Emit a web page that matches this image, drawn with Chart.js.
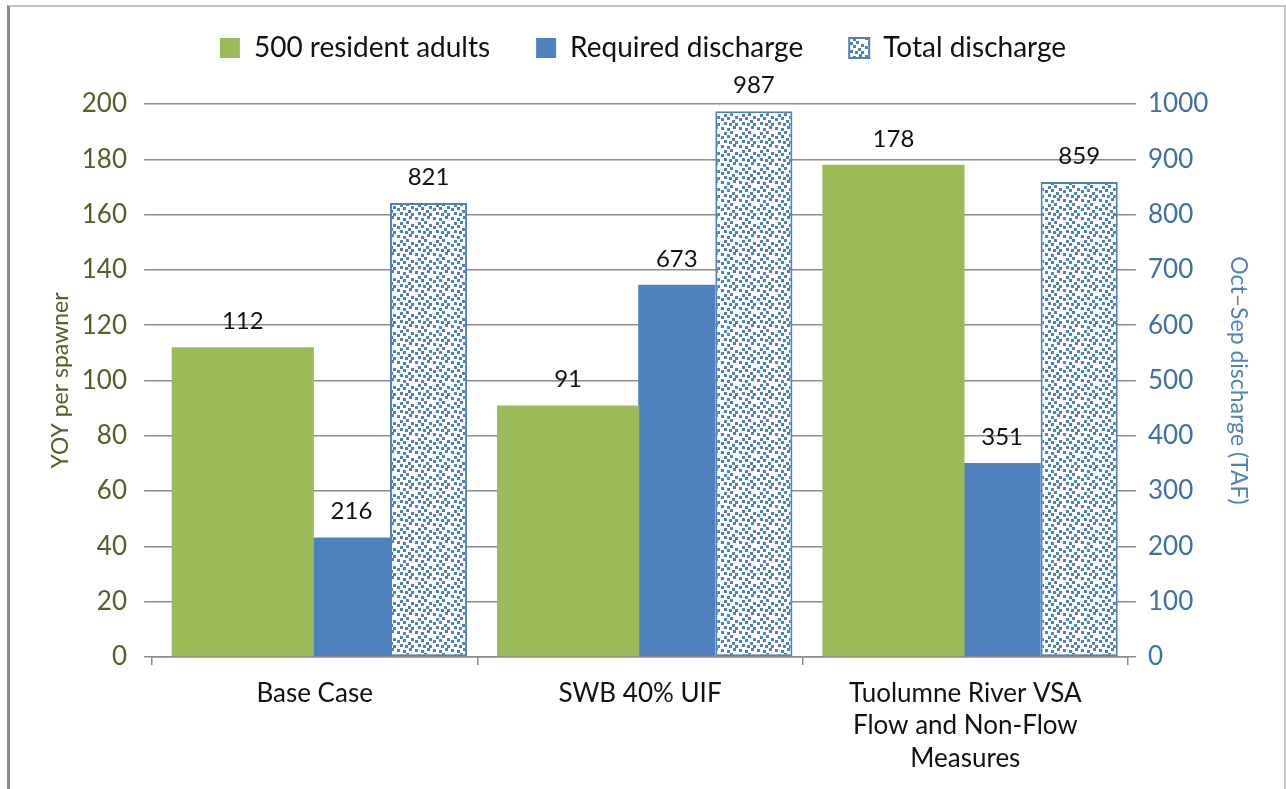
<!DOCTYPE html>
<html>
<head>
<meta charset="utf-8">
<script src="https://cdn.jsdelivr.net/npm/chart.js@4"></script>
<style>
  body { margin: 0; background: #fff; }
  #wrap { position: relative; width: 1286px; height: 789px; }
  #frame { position: absolute; left: 7px; top: 5px; width: 1274px; height: 800px;
           border-left: 3px solid #8a8a8a; border-top: 2px solid #c4c4c4; border-right: 2px solid #c8c8c8; }
  #grafica { position: absolute; left: 0; top: 0; }
</style>
</head>
<body>
<div id="wrap">
  <div id="frame"></div>
  <canvas id="grafica" width="1286" height="789"></canvas>
</div>
<script>
var categorias = ['Base Case', 'SWB 40% UIF', ['Tuolumne River VSA', 'Flow and Non-Flow', 'Measures']];
var adultos = [112, 91, 178];
var descargaRequerida = [216, 673, 351];
var descargaTotal = [821, 987, 859];
var ticksIzq = [0, 20, 40, 60, 80, 100, 120, 140, 160, 180, 200];
var ticksDer = [0, 100, 200, 300, 400, 500, 600, 700, 800, 900, 1000];

var verde = '#9BBB59';
var azul = '#4F81BD';
var gris = '#8c8c8c';
var fuente = 'Lato, "Open Sans", sans-serif';

// each series sits on its own hidden linear axis, shifted inside the category
function ejeOculto(corrimiento) {
    return {
        type: 'linear', display: false, offset: false, position: 'bottom',
        min: -0.5 - corrimiento, max: 2.5 - corrimiento,
        afterBuildTicks: function(s) { s.ticks = categorias.map(function(c, i){ return { value: i }; }); }
    };
}

function puntosSerie(valores) {
    return valores.map(function(v, i){ return { x: i, y: v }; });
}

// white tile with scattered blue dots for the total discharge bars
function patronPuntos() {
    var c = document.createElement('canvas');
    c.width = 18; c.height = 18;
    var g = c.getContext('2d');
    g.fillStyle = '#ffffff';
    g.fillRect(0, 0, 18, 18);
    g.fillStyle = azul;
    var puntos = [[1,1],[7,2],[13,0],[4,6],[10,5],[15,8],[1,10],[7,9],[12,12],[4,14],[9,15],[15,15]];
    puntos.forEach(function(p){ g.fillRect(p[0], p[1], 3, 3); });
    return g.createPattern(c, 'repeat');
}

var etiquetas = {
    id: 'etiquetas',
    afterDatasetsDraw: function(chart) {
        var ctx = chart.ctx;
        ctx.save();
        ctx.font = '24px ' + fuente;
        ctx.fillStyle = '#111';
        ctx.textAlign = 'center';
        ctx.textBaseline = 'middle';
        chart.data.datasets.forEach(function(ds, i) {
            chart.getDatasetMeta(i).data.forEach(function(bar, j) {
                ctx.fillText(ds.data[j].y, bar.x, bar.y - 26);
            });
        });
        ctx.restore();
    }
};

// room under the legend, and legend nudged up
var margenLeyenda = {
    id: 'margenLeyenda',
    beforeInit: function(chart) {
        var fit = chart.legend.fit;
        chart.legend.fit = function() {
            fit.call(this);
            this.height = 104;
        };
    },
    afterLayout: function(chart) {
        chart.legend.top -= 12;
    }
};

var ctx = document.getElementById('grafica').getContext('2d');
var chart = new Chart(ctx, {
    type: 'bar',
    data: {
        labels: categorias,
        datasets: [
            { label: '500 resident adults', data: puntosSerie(adultos), backgroundColor: verde,
              xAxisID: 'xVerde', yAxisID: 'y', grouped: false, categoryPercentage: 0.437, barPercentage: 1 },
            { label: 'Required discharge', data: puntosSerie(descargaRequerida), backgroundColor: azul,
              xAxisID: 'xAzul', yAxisID: 'y1', grouped: false, categoryPercentage: 0.237, barPercentage: 1 },
            { label: 'Total discharge', data: puntosSerie(descargaTotal), backgroundColor: patronPuntos(),
              borderColor: azul, borderWidth: 2, borderSkipped: false,
              xAxisID: 'xPuntos', yAxisID: 'y1', grouped: false, categoryPercentage: 0.237, barPercentage: 1 }
        ]
    },
    options: {
        responsive: false,
        animation: false,
        plugins: {
            tooltip: { enabled: false },
            legend: {
                position: 'top',
                labels: {
                    boxWidth: 20, boxHeight: 20, padding: 46,
                    color: '#111', font: { family: fuente, size: 28 }
                }
            }
        },
        scales: {
            x: {
                type: 'category', offset: true,
                grid: { offset: true, drawOnChartArea: false, drawTicks: true, tickLength: 8, color: gris, lineWidth: 1.5 },
                border: { color: gris, width: 1.5 },
                ticks: { color: '#111', padding: 12, maxRotation: 0, font: { family: fuente, size: 26, lineHeight: 1.25 } },
                afterFit: function(s) { s.height = 132; }
            },
            xVerde: ejeOculto(-0.221),
            xAzul: ejeOculto(0.113),
            xPuntos: ejeOculto(0.35),
            y: {
                position: 'left', min: 0, max: 200,
                afterBuildTicks: function(s) { s.ticks = ticksIzq.map(function(v){ return { value: v }; }); },
                grid: { color: gris, lineWidth: 1.5, tickLength: 8 },
                border: { display: false },
                ticks: { color: '#4F6228', padding: 17, font: { family: fuente, size: 26 } },
                title: { display: true, text: 'YOY per spawner', color: '#4F6228', padding: { top: 28 }, font: { family: fuente, size: 23, lineHeight: 2.8 } },
                afterFit: function(s) { s.width = 152; }
            },
            y1: {
                position: 'right', min: 0, max: 1000,
                afterBuildTicks: function(s) { s.ticks = ticksDer.map(function(v){ return { value: v }; }); },
                grid: { drawOnChartArea: false, color: gris, lineWidth: 1.5, tickLength: 8 },
                border: { display: false },
                ticks: { color: '#3F6FA8', padding: 12, font: { family: fuente, size: 26 }, callback: function(v) { return String(v); } },
                title: { display: true, text: 'Oct\u2013Sep discharge (TAF)', color: azul, padding: { top: 34 }, font: { family: fuente, size: 23 } },
                afterFit: function(s) { s.width = 158; }
            }
        }
    },
    plugins: [etiquetas, margenLeyenda]
});
</script>
</body>
</html>
